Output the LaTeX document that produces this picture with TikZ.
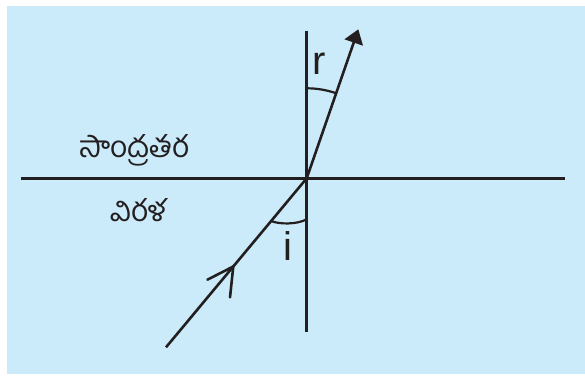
\documentclass[tikz,border=0pt]{standalone}
\usepackage{fontspec}
\setmainfont{Liberation Sans}
\newfontfamily\telugufont[Script=Telugu]{Hind Guntur}
\usetikzlibrary{arrows.meta,calc}
\definecolor{bgblue}{RGB}{204,235,250}
\definecolor{ink}{HTML}{231F20}
\begin{document}
\begin{tikzpicture}[x=1pt,y=1pt,
  ray/.style={draw=ink,line width=2.6pt},
  anglearc/.style={draw=ink,line width=2.2pt},
  tel/.style={text=ink,font=\telugufont\fontsize{30}{32}\selectfont,anchor=base,inner sep=0pt},
  lab/.style={text=ink,font=\fontsize{40}{42}\selectfont,anchor=base,inner sep=0pt}]
\useasboundingbox (0,0) rectangle (585,375);
\fill[bgblue] (7,1) rectangle (585,369);
% coordinates
\coordinate (O) at (306.7,196.7);
\coordinate (ntop) at (306.7,344.3);
\coordinate (nbot) at (306.7,43.3);
\coordinate (sl) at (20.5,196.7);
\coordinate (sr) at (565,196.7);
\coordinate (src) at (166,27.7);
\coordinate (tip) at (358.3,345.7);
\coordinate (mid) at ($(src)!0.478!(O)$);
\coordinate (ia) at ($(src)!0.747!(O)$);
\coordinate (ib) at (306.7,155.7);
% lines
\draw[ray] (sl) -- (sr);
\draw[ray] (ntop) -- (nbot);
\draw[ray] (src) -- (O);
\draw[ray,-{Triangle[length=14pt,width=19pt]}] (O) -- (tip);
\draw[ray,line cap=round] (mid) -- ++(207:29) (mid) -- ++(264:31);
% angle arcs
\draw[anglearc] (O) ++(90:90pt) arc[start angle=90,end angle=70.9,radius=90pt];
\draw[anglearc] (ia) .. controls (280,150.5) and (297,150.5) .. (ib);
% labels
\node[lab] (r) at (318.7,300) {r};
\node[lab] (i) at (288,115) {i};
\node[tel] (dense) at (134,217) {సాంద్రతర};
\node[tel] (rare) at (138.4,153.3) {విరళ};
\end{tikzpicture}
\end{document}
